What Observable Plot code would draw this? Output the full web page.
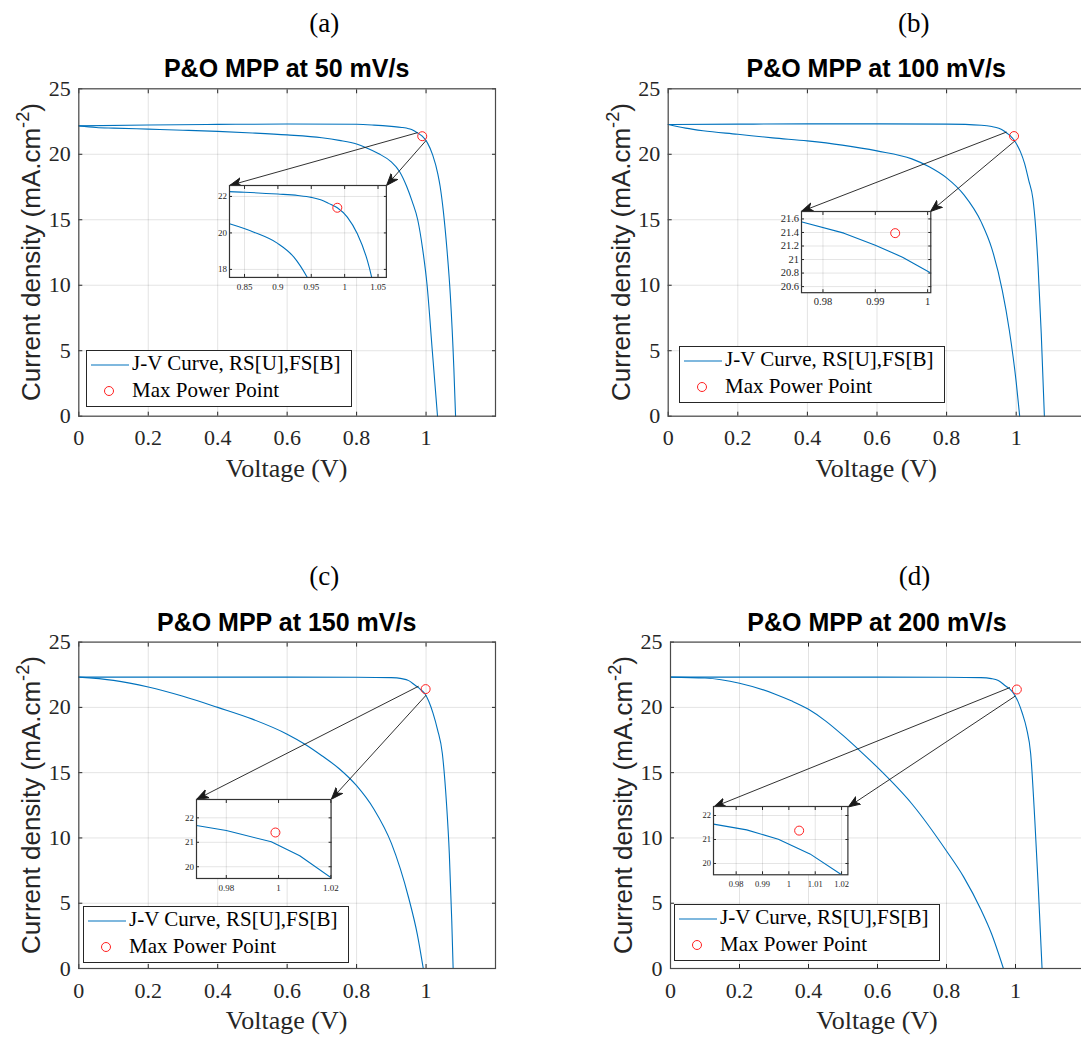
<!DOCTYPE html>
<html>
<head>
<meta charset="utf-8">
<script src="https://cdn.jsdelivr.net/npm/d3@7"></script>
<script src="https://cdn.jsdelivr.net/npm/@observablehq/plot@0.6"></script>
<style>
  body { margin: 0; background: #fff; }
  #root { position: relative; width: 1081px; height: 1040px; overflow: hidden; background: #fff; }
  #root svg { overflow: visible; }
  #root svg text { font-family: "Liberation Serif", "Times New Roman", serif !important; }
</style>
</head>
<body>
<div id="root"></div>
<script>
// ---------------- DATA ----------------
const panelLabels = ["(a)", "(b)", "(c)", "(d)"];
const titles = ["P&O MPP at 50 mV/s", "P&O MPP at 100 mV/s", "P&O MPP at 150 mV/s", "P&O MPP at 200 mV/s"];
const xLabel = "Voltage (V)";
const seriesLabel = "J-V Curve, RS[U],FS[B]";
const mppLabel = "Max Power Point";
const xTicks = [0, 0.2, 0.4, 0.6, 0.8, 1];
const yTicks = [0, 5, 10, 15, 20, 25];

// (a) 50 mV/s : reverse scan (upper) and forward scan (lower)
const a_rsV = [0, 0.2, 0.4, 0.6, 0.8, 0.85, 0.9, 0.93, 0.95, 0.964, 0.976, 0.989, 1.004, 1.019, 1.034, 1.0405, 1.05, 1.06, 1.07, 1.08, 1.085];
const a_rsJ = [22.17, 22.24, 22.28, 22.31, 22.29, 22.23, 22.13, 22.05, 21.95, 21.82, 21.62, 21.38, 20.87, 19.95, 18.49, 17.56, 15.6, 12.8, 9.2, 3.7, 0];
const a_fsV = [0, 0.05, 0.1, 0.2, 0.3, 0.4, 0.5, 0.6, 0.7, 0.75, 0.8, 0.8275, 0.864, 0.899, 0.924, 0.944, 0.96, 0.976, 0.99, 1.003, 1.018, 1.033];
const a_fsJ = [22.17, 22.05, 22.0, 21.92, 21.84, 21.75, 21.63, 21.48, 21.26, 21.06, 20.78, 20.5, 20.04, 19.44, 18.67, 17.56, 16.4, 15.0, 12.8, 10.0, 5.0, 0];

// (b) 100 mV/s
const b_rsV = [0, 0.2, 0.4, 0.6, 0.8, 0.9, 0.93, 0.95, 0.965, 0.976, 0.984, 0.99, 0.9952, 1.0006, 1.012, 1.024, 1.036, 1.048, 1.056, 1.063, 1.072, 1.081];
const b_rsJ = [22.27, 22.3, 22.32, 22.32, 22.3, 22.22, 22.12, 21.98, 21.78, 21.556, 21.39, 21.21, 21.035, 20.8, 20.2, 19.3, 18.0, 16.6, 14.4, 11.4, 6.3, 0];
const b_fsV = [0, 0.05, 0.1, 0.2, 0.3, 0.4, 0.5, 0.6, 0.7, 0.75, 0.8, 0.85, 0.9, 0.93, 0.96, 0.98, 1.0, 1.01];
const b_fsJ = [22.27, 22.0, 21.8, 21.53, 21.25, 21.02, 20.7, 20.26, 19.65, 19.05, 18.2, 16.9, 14.8, 12.8, 9.6, 6.6, 2.6, 0];

// (c) 150 mV/s
const c_rsV = [0, 0.2, 0.4, 0.6, 0.8, 0.9, 0.93, 0.95, 0.9686, 0.98, 0.9842, 0.9972, 1.0081, 1.02, 1.033, 1.047, 1.059, 1.067, 1.074, 1.078];
const c_rsJ = [22.32, 22.32, 22.32, 22.32, 22.31, 22.28, 22.2, 22.05, 21.69, 21.48, 21.37, 21.02, 20.45, 19.56, 18.3, 16.45, 12.6, 8.8, 3.7, 0];
const c_fsV = [0, 0.1, 0.2, 0.3, 0.4, 0.5, 0.6, 0.65, 0.7, 0.75, 0.8, 0.85, 0.9, 0.95, 0.975, 0.992];
const c_fsJ = [22.32, 22.07, 21.56, 20.85, 20.0, 19.1, 17.95, 17.2, 16.3, 15.3, 14.0, 12.2, 9.6, 5.4, 2.6, 0];

// (d) 200 mV/s
const d_rsV = [0, 0.2, 0.4, 0.6, 0.8, 0.9, 0.93, 0.95, 0.9714, 0.984, 0.996, 1.008, 1.02, 1.032, 1.044, 1.056, 1.066, 1.077];
const d_rsJ = [22.32, 22.32, 22.32, 22.32, 22.31, 22.28, 22.2, 22.05, 21.64, 21.4, 21.01, 20.4, 19.53, 18.4, 16.45, 11.35, 6.25, 0];
const d_fsV = [0, 0.1, 0.2, 0.3, 0.35, 0.4, 0.45, 0.5, 0.55, 0.6, 0.7, 0.8, 0.85, 0.9, 0.93, 0.965];
const d_fsJ = [22.32, 22.25, 21.85, 21.05, 20.5, 19.85, 18.95, 17.85, 16.65, 15.4, 12.6, 9.0, 7.0, 4.5, 2.7, 0];

// maximum power points
const mppV = [0.989, 0.9938, 0.9988, 1.0039];
const mppJ = [21.38, 21.39, 21.40, 21.37];

// zoomed insets: axis limits and ticks
const insetXDomain = [[0.8275, 1.0625], [0.9759, 1.0006], [0.9686, 1.0201], [0.9714, 1.0224]];
const insetYDomain = [[17.56, 22.6], [20.51, 21.71], [19.52, 22.75], [19.53, 22.375]];
const a_insetXTicks = [0.85, 0.9, 0.95, 1, 1.05];
const a_insetYTicks = [18, 20, 22];
const b_insetXTicks = [0.98, 0.99, 1];
const b_insetYTicks = [20.6, 20.8, 21, 21.2, 21.4, 21.6];
const c_insetXTicks = [0.98, 1, 1.02];
const c_insetYTicks = [20, 21, 22];
const d_insetXTicks = [0.98, 0.99, 1, 1.01, 1.02];
const d_insetYTicks = [20, 21, 22];

// inset box placement, in the main chart's data units
const insetBoxV = [[0.4345, 0.8863], [0.3822, 0.7537], [0.3396, 0.7272], [0.1255, 0.5151]];
const insetBoxJ = [[10.60, 17.62], [9.43, 15.63], [6.91, 12.96], [7.14, 12.37]];
// arrow start points (data units), arrows end at the inset's top corners
const arrowStartV = [[0.9755, 1.0], [0.9724, 0.9963], [0.9784, 1.0], [0.984, 1.0]];
const arrowStartJ = [[21.65, 21.05], [21.70, 21.02], [21.62, 20.93], [21.52, 20.88]];

// ---------------- LAYOUT / STYLE ----------------
const blue = "#0072BD";
const red = "#ff2020";
const axisColor = "#262626";
const serif = "'Liberation Serif', 'Times New Roman', serif";
const sans = "'Liberation Sans', Arial, sans-serif";
const fmt = d3.format("~g");

const panels = [
  {rsV: a_rsV, rsJ: a_rsJ, fsV: a_fsV, fsJ: a_fsJ, ixT: a_insetXTicks, iyT: a_insetYTicks, inCurve: "monotone-x"},
  {rsV: b_rsV, rsJ: b_rsJ, fsV: b_fsV, fsJ: b_fsJ, ixT: b_insetXTicks, iyT: b_insetYTicks, inCurve: "linear"},
  {rsV: c_rsV, rsJ: c_rsJ, fsV: c_fsV, fsJ: c_fsJ, ixT: c_insetXTicks, iyT: c_insetYTicks, inCurve: "linear"},
  {rsV: d_rsV, rsJ: d_rsJ, fsV: d_fsV, fsJ: d_fsJ, ixT: d_insetXTicks, iyT: d_insetYTicks, inCurve: "linear"}
];
const layout = [
  {left: 0,   top: 0,   width: 540, height: 520, frame: [78.3, 88.3, 495, 415.7],  legend: [86, 350],  inFont: 9},
  {left: 540, top: 0,   width: 560, height: 520, frame: [667.7, 88.3, 1085.3, 415.7], legend: [679, 346], inFont: 10.5},
  {left: 0,   top: 520, width: 540, height: 520, frame: [78.3, 641.6, 495, 968],  legend: [83, 906],  inFont: 9},
  {left: 540, top: 520, width: 560, height: 520, frame: [670, 641.6, 1084, 968],  legend: [674, 904], inFont: 8.5}
];

const root = document.getElementById("root");

function place(el, x, y) {
  el.style.position = "absolute";
  el.style.left = x + "px";
  el.style.top = y + "px";
  root.appendChild(el);
  return el;
}

function addText(html, {x, baseline, size, family, weight = "normal", anchor = "middle", color = "#000"}) {
  const d = document.createElement("div");
  d.innerHTML = html;
  d.style.cssText = `font-family:${family};font-size:${size}px;font-weight:${weight};line-height:${size}px;white-space:nowrap;color:${color};` +
    (anchor === "middle" ? "transform:translateX(-50%);" : "");
  place(d, x, baseline - 0.8375 * size);
  return d;
}

function arrowHead(color, context) {
  const doc = (context && context.document) || document;
  const ns = "http://www.w3.org/2000/svg";
  const m = doc.createElementNS(ns, "marker");
  m.setAttribute("viewBox", "-12 -6 12 12");
  m.setAttribute("markerWidth", "12");
  m.setAttribute("markerHeight", "12");
  m.setAttribute("markerUnits", "userSpaceOnUse");
  m.setAttribute("refX", "0");
  m.setAttribute("refY", "0");
  m.setAttribute("orient", "auto");
  const p = doc.createElementNS(ns, "path");
  p.setAttribute("d", "M0,0L-12,-4.5L-8.5,0L-12,4.5Z");
  p.setAttribute("fill", color);
  m.appendChild(p);
  return m;
}

function scans(P) {
  return [
    ...P.rsV.map((v, k) => ({V: v, J: P.rsJ[k], scan: "RS"})),
    ...P.fsV.map((v, k) => ({V: v, J: P.fsJ[k], scan: "FS"}))
  ];
}

function axes(xt, yt, size, tick, padX, padY) {
  const t = {fontFamily: serif, fontSize: size, fill: axisColor, stroke: axisColor};
  return [
    Plot.axisX(xt, {...t, tickSize: -tick, tickPadding: padX, tickFormat: fmt}),
    Plot.axisX(xt, {...t, anchor: "top", tickSize: -tick, tickFormat: () => ""}),
    Plot.axisY(yt, {...t, tickSize: -tick, tickPadding: padY, tickFormat: fmt}),
    Plot.axisY(yt, {...t, anchor: "right", tickSize: -tick, tickFormat: () => ""})
  ];
}

function fixFonts(svg, size) {
  svg.style.fontFamily = serif;
  svg.querySelectorAll("text").forEach(t => {
    t.style.fontFamily = serif;
    t.style.fontSize = size + "px";
    t.setAttribute("font-family", "Liberation Serif");
  });
}

function buildMain(i, useMarker) {
  const P = panels[i], L = layout[i];
  const [fx0, fy0, fx1, fy1] = L.frame;
  const arrows = [0, 1].map(k => ({
    x1: arrowStartV[i][k], y1: arrowStartJ[i][k],
    x2: insetBoxV[i][k], y2: insetBoxJ[i][1]
  }));
  const arrowMark = useMarker
    ? Plot.link(arrows, {x1: "x1", y1: "y1", x2: "x2", y2: "y2", stroke: "#1a1a1a", strokeWidth: 0.9, markerEnd: arrowHead})
    : Plot.arrow(arrows, {x1: "x1", y1: "y1", x2: "x2", y2: "y2", stroke: "#1a1a1a", strokeWidth: 1, headLength: 11, headAngle: 45});
  const svg = Plot.plot({
    width: L.width, height: L.height,
    marginLeft: fx0 - L.left, marginTop: fy0 - L.top,
    marginRight: L.left + L.width - fx1, marginBottom: L.top + L.height - fy1,
    x: {domain: [0, 1.2], label: null},
    y: {domain: [0, 25], label: null},
    style: {background: "transparent", overflow: "visible", color: axisColor},
    marks: [
      Plot.gridX(xTicks, {stroke: "#000", strokeOpacity: 0.11}),
      Plot.gridY(yTicks, {stroke: "#000", strokeOpacity: 0.11}),
      ...axes(xTicks, yTicks, 22, 4, 17.4, 12),
      Plot.line(scans(P), {x: "V", y: "J", z: "scan", stroke: blue, strokeWidth: 1.1, curve: "monotone-x"}),
      arrowMark,
      Plot.dot([{V: mppV[i], J: mppJ[i]}], {x: "V", y: "J", r: 4.5, stroke: red, strokeWidth: 1}),
      Plot.frame({stroke: "#4a4a4a", strokeWidth: 1.2})
    ]
  });
  fixFonts(svg, 22);
  return svg;
}

function buildInset(i, chart) {
  const P = panels[i], L = layout[i];
  const X = chart.scale("x"), Y = chart.scale("y");
  const ix0 = L.left + X.apply(insetBoxV[i][0]);
  const ix1 = L.left + X.apply(insetBoxV[i][1]);
  const iy0 = L.top + Y.apply(insetBoxJ[i][1]);
  const iy1 = L.top + Y.apply(insetBoxJ[i][0]);
  const mL = 30, mR = 14, mT = 4, mB = 18;
  const f = L.inFont;
  const inset = Plot.plot({
    width: (ix1 - ix0) + mL + mR, height: (iy1 - iy0) + mT + mB,
    marginLeft: mL, marginRight: mR, marginTop: mT, marginBottom: mB,
    x: {domain: insetXDomain[i], label: null},
    y: {domain: insetYDomain[i], label: null},
    style: {background: "transparent", overflow: "visible", color: axisColor},
    marks: [
      Plot.frame({fill: "white"}),
      Plot.gridX(P.ixT, {stroke: "#000", strokeOpacity: 0.11}),
      Plot.gridY(P.iyT, {stroke: "#000", strokeOpacity: 0.11}),
      ...axes(P.ixT, P.iyT, f, 3, 12.5 - 0.71 * f + 3, 5.5),
      Plot.line(scans(P), {x: "V", y: "J", z: "scan", stroke: blue, strokeWidth: 1.1, curve: P.inCurve, clip: true}),
      Plot.dot([{V: mppV[i], J: mppJ[i]}], {x: "V", y: "J", r: 4.5, stroke: red, strokeWidth: 1, clip: true}),
      Plot.frame({stroke: "#333", strokeWidth: 1.2})
    ]
  });
  fixFonts(inset, f);
  place(inset, ix0 - mL, iy0 - mT);
}

function addLegend(i) {
  const [lx, ly] = layout[i].legend;
  const w = 266, h = 57;
  const d = document.createElement("div");
  d.style.cssText = `width:${w}px;height:${h}px;border:1px solid #262626;background:#fff;box-sizing:border-box;`;
  d.innerHTML =
    `<svg width="${w}" height="${h}" style="position:absolute;left:-1px;top:-1px">` +
    `<line x1="5" x2="43" y1="15" y2="15" stroke="${blue}" stroke-width="1.1"/>` +
    `<circle cx="23" cy="41" r="4.5" fill="none" stroke="${red}" stroke-width="1"/></svg>`;
  place(d, lx, ly);
  addText(seriesLabel, {x: lx + 46, baseline: ly + 21, size: 21, family: serif, anchor: "start", color: "#000"});
  addText(mppLabel, {x: lx + 46, baseline: ly + 48, size: 21, family: serif, anchor: "start", color: "#000"});
}

for (let i = 0; i < 4; i++) {
  const L = layout[i];
  const [fx0, fy0, fx1, fy1] = L.frame;
  let chart;
  try { chart = buildMain(i, true); } catch (e) { chart = buildMain(i, false); }
  place(chart, L.left, L.top);
  buildInset(i, chart);
  addLegend(i);
  const cx = (fx0 + Math.min(fx1, fx0 + 417)) / 2;
  addText(titles[i], {x: cx, baseline: fy0 - 11, size: 25, family: sans, weight: "bold"});
  addText(panelLabels[i], {x: cx + 37.5, baseline: fy0 - 56, size: 27, family: serif});
  addText(xLabel, {x: cx, baseline: fy1 + 62, size: 26, family: serif, color: axisColor});
  const yl = document.createElement("div");
  yl.innerHTML = 'Current density (mA.cm<span style="font-size:70%;position:relative;top:-0.6em">-2</span>)';
  yl.style.cssText = `font-family:${sans};font-size:26px;line-height:26px;white-space:nowrap;color:${axisColor};transform:translate(-50%,-50%) rotate(-90deg);`;
  place(yl, fx0 - 46, (fy0 + fy1) / 2);
}
</script>
</body>
</html>
